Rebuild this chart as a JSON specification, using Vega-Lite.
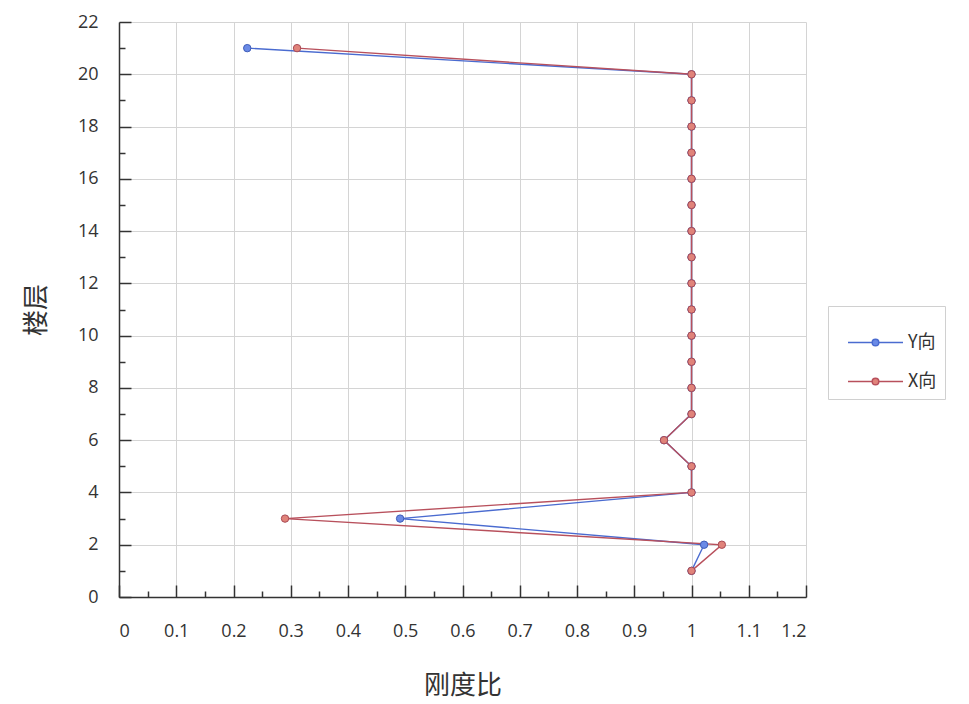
{
  "$schema": "https://vega.github.io/schema/vega-lite/v6.json",
  "width": 687,
  "height": 575,
  "autosize": "none",
  "padding": {"left": 119, "top": 22, "right": 163, "bottom": 107},
  "background": "white",
  "config": {
    "font": "Open Sans",
    "view": {"stroke": null},
    "axis": {"labelFont": "Open Sans", "titleFont": "Noto Sans CJK SC", "labelColor": "#333333", "titleColor": "#333333"}
  },
  "data": {
    "values": [
      {"floor": 1, "ratio": 1.0, "dir": "Y向"},
      {"floor": 2, "ratio": 1.022, "dir": "Y向"},
      {"floor": 3, "ratio": 0.491, "dir": "Y向"},
      {"floor": 4, "ratio": 1.0, "dir": "Y向"},
      {"floor": 5, "ratio": 1.0, "dir": "Y向"},
      {"floor": 6, "ratio": 0.952, "dir": "Y向"},
      {"floor": 7, "ratio": 1.0, "dir": "Y向"},
      {"floor": 8, "ratio": 1.0, "dir": "Y向"},
      {"floor": 9, "ratio": 1.0, "dir": "Y向"},
      {"floor": 10, "ratio": 1.0, "dir": "Y向"},
      {"floor": 11, "ratio": 1.0, "dir": "Y向"},
      {"floor": 12, "ratio": 1.0, "dir": "Y向"},
      {"floor": 13, "ratio": 1.0, "dir": "Y向"},
      {"floor": 14, "ratio": 1.0, "dir": "Y向"},
      {"floor": 15, "ratio": 1.0, "dir": "Y向"},
      {"floor": 16, "ratio": 1.0, "dir": "Y向"},
      {"floor": 17, "ratio": 1.0, "dir": "Y向"},
      {"floor": 18, "ratio": 1.0, "dir": "Y向"},
      {"floor": 19, "ratio": 1.0, "dir": "Y向"},
      {"floor": 20, "ratio": 1.0, "dir": "Y向"},
      {"floor": 21, "ratio": 0.224, "dir": "Y向"},
      {"floor": 1, "ratio": 1.0, "dir": "X向"},
      {"floor": 2, "ratio": 1.053, "dir": "X向"},
      {"floor": 3, "ratio": 0.29, "dir": "X向"},
      {"floor": 4, "ratio": 1.0, "dir": "X向"},
      {"floor": 5, "ratio": 1.0, "dir": "X向"},
      {"floor": 6, "ratio": 0.952, "dir": "X向"},
      {"floor": 7, "ratio": 1.0, "dir": "X向"},
      {"floor": 8, "ratio": 1.0, "dir": "X向"},
      {"floor": 9, "ratio": 1.0, "dir": "X向"},
      {"floor": 10, "ratio": 1.0, "dir": "X向"},
      {"floor": 11, "ratio": 1.0, "dir": "X向"},
      {"floor": 12, "ratio": 1.0, "dir": "X向"},
      {"floor": 13, "ratio": 1.0, "dir": "X向"},
      {"floor": 14, "ratio": 1.0, "dir": "X向"},
      {"floor": 15, "ratio": 1.0, "dir": "X向"},
      {"floor": 16, "ratio": 1.0, "dir": "X向"},
      {"floor": 17, "ratio": 1.0, "dir": "X向"},
      {"floor": 18, "ratio": 1.0, "dir": "X向"},
      {"floor": 19, "ratio": 1.0, "dir": "X向"},
      {"floor": 20, "ratio": 1.0, "dir": "X向"},
      {"floor": 21, "ratio": 0.311, "dir": "X向"}
    ]
  },
  "layer": [
    {
      "mark": {"type": "point", "opacity": 0},
      "encoding": {
        "x": {"field": "ratio", "type": "quantitative", "scale": {"domain": [0, 1.2], "nice": false, "zero": true},
          "axis": {"orient": "bottom", "values": [0.05, 0.15, 0.25, 0.35, 0.45, 0.55, 0.65, 0.75, 0.85, 0.95, 1.05, 1.15], "labels": false, "grid": false, "domain": false, "tickSize": -6, "tickColor": "#333333", "tickWidth": 1.5, "title": null}},
        "y": {"field": "floor", "type": "quantitative", "scale": {"domain": [0, 22], "nice": false},
          "axis": {"orient": "left", "values": [1, 3, 5, 7, 9, 11, 13, 15, 17, 19, 21], "labels": false, "grid": false, "domain": false, "tickSize": -6, "tickColor": "#333333", "tickWidth": 1.5, "title": null}}
      }
    },
    {
      "mark": {"type": "line", "strokeWidth": 1.4, "point": false},
      "encoding": {
        "x": {"field": "ratio", "type": "quantitative",
          "axis": {"orient": "bottom", "values": [0, 0.1, 0.2, 0.3, 0.4, 0.5, 0.6, 0.7, 0.8, 0.9, 1, 1.1, 1.2], "format": "~f", "grid": true, "gridColor": "#d4d4d4", "gridWidth": 1, "domainColor": "#333333", "domainWidth": 1.5, "tickSize": -12, "tickColor": "#333333", "tickWidth": 1.5, "labelFontSize": 18, "labelPadding": 37, "title": "刚度比", "titleFontSize": 26, "titleFontWeight": "normal", "titlePadding": 32}},
        "y": {"field": "floor", "type": "quantitative",
          "axis": {"orient": "left", "values": [0, 2, 4, 6, 8, 10, 12, 14, 16, 18, 20, 22], "grid": true, "gridColor": "#d4d4d4", "gridWidth": 1, "domainColor": "#333333", "domainWidth": 1.5, "tickSize": -12, "tickColor": "#333333", "tickWidth": 1.5, "labelFontSize": 18, "labelPadding": 33, "title": "楼层", "titleFontSize": 26, "titleFontWeight": "normal", "titlePadding": 28}},
        "order": {"field": "floor", "type": "quantitative"},
        "color": {"field": "dir", "type": "nominal", "sort": ["Y向", "X向"],
          "scale": {"domain": ["Y向", "X向"], "range": ["#4a6bd0", "#b8505c"]},
          "legend": {"orient": "none", "legendX": 709, "legendY": 284, "title": null, "strokeColor": "#d0d0d0", "fillColor": "white", "padding": 8, "symbolOffset": 11, "symbolType": "M-1,0L-0.13,0M0.13,0L1,0M0.12,0A0.12,0.12 0 1,1 -0.12,0A0.12,0.12 0 1,1 0.12,0Z", "symbolSize": 3025, "symbolStrokeWidth": 1.5, "labelFontSize": 18, "labelFont": "Noto Sans CJK SC", "labelColor": "#333333", "labelOffset": 4, "rowPadding": 1, "offset": 0}
        },
        "detail": {"field": "dir"}
      }
    },
    {
      "mark": {"type": "point", "filled": true, "size": 55, "strokeWidth": 1, "opacity": 1},
      "encoding": {
        "x": {"field": "ratio", "type": "quantitative", "axis": null},
        "y": {"field": "floor", "type": "quantitative", "axis": null},
        "fill": {"field": "dir", "type": "nominal", "scale": {"domain": ["Y向", "X向"], "range": ["#6a8ae6", "#e0837a"]}, "legend": null},
        "stroke": {"field": "dir", "type": "nominal", "scale": {"domain": ["Y向", "X向"], "range": ["#3e5cb8", "#a94a55"]}, "legend": null}
      }
    }
  ],
  "resolve": {"axis": {"x": "independent", "y": "independent"}}
}
